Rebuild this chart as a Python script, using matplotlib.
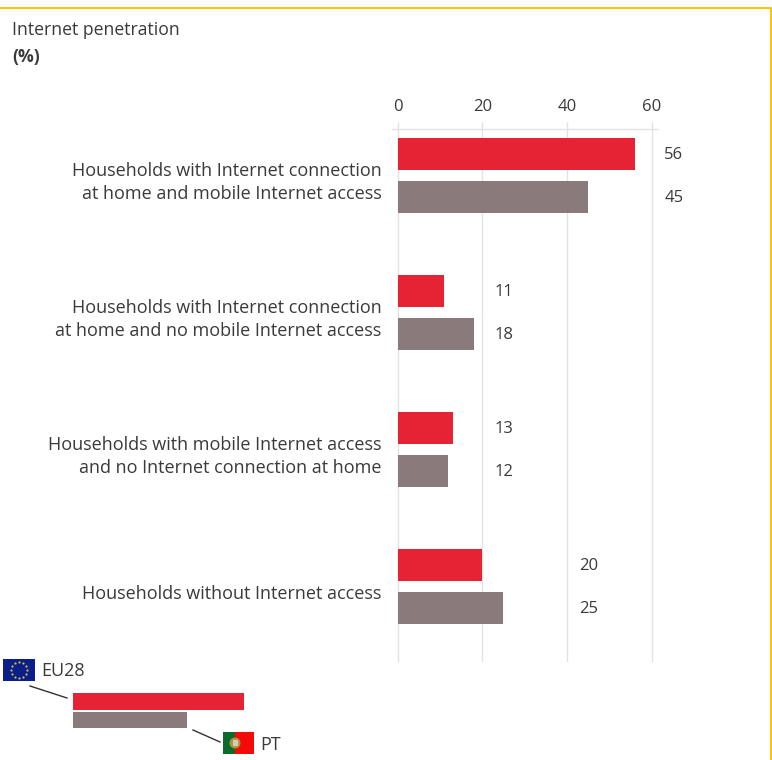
import numpy as np
import matplotlib
matplotlib.use('Agg')
import matplotlib.pyplot as plt
from matplotlib.patches import Rectangle, Circle
from matplotlib.transforms import ScaledTranslation

plt.rcParams['font.family'] = ['Open Sans', 'DejaVu Sans']

categories = ['Households with Internet connection\nat home and mobile Internet access',
              'Households with Internet connection\nat home and no mobile Internet access',
              'Households with mobile Internet access\nand no Internet connection at home',
              'Households without Internet access']
eu28 = [56, 11, 13, 20]
pt = [45, 18, 12, 25]
label_cols = [63, 23, 23, 42.8]
ticks = [0, 20, 40, 60]

RED = '#e62235'
GREY = '#8a7a7c'
TEXT = '#3a3a3a'
GRID = '#e2e2e2'
W, H = 772, 760

fig = plt.figure(figsize=(W / 100, H / 100), dpi=100)

# main axes, placed from pixel positions
left, right, top, bottom = 392, 657.5, 129, 662
ax = fig.add_axes([left / W, 1 - bottom / H, (right - left) / W, (bottom - top) / H])
ax.set_xlim(-1.3, 61.4)
ax.set_ylim(3.551, -0.339)
for s in ['left', 'right', 'bottom']:
    ax.spines[s].set_visible(False)
ax.spines['top'].set_color(GRID)
ax.spines['top'].set_linewidth(1)
ax.set_axisbelow(True)
ax.xaxis.tick_top()
ax.set_xticks(ticks)
ax.grid(axis='x', color=GRID, linewidth=1)
ax.tick_params(axis='x', length=5, width=1, color=GRID, labelcolor=TEXT, labelsize=12, pad=5)

y = np.arange(len(categories))
ax.barh(y - 0.157, eu28, height=0.234, color=RED)
ax.barh(y + 0.157, pt, height=0.234, color=GREY)
ax.set_yticks(y)
ax.set_yticklabels(categories, fontsize=13, color=TEXT, linespacing=1.38, ha='right')
ax.tick_params(axis='y', length=0, pad=7.5)

# category labels sit a bit lower than the middle of each bar pair
for lab in ax.get_yticklabels():
    px = 2.5 if '\n' in lab.get_text() else 5.5
    shift = ScaledTranslation(0, -px / 100, fig.dpi_scale_trans)
    lab.set_transform(lab.get_transform() + shift)

for i in y:
    ax.text(label_cols[i], i - 0.15, str(eu28[i]), va='center', ha='left', fontsize=12, color=TEXT)
    ax.text(label_cols[i], i + 0.164, str(pt[i]), va='center', ha='left', fontsize=12, color=TEXT)

# overlay in pixel coords for the frame, title and the little legend
ov = fig.add_axes([0, 0, 1, 1], facecolor='none')
ov.set_xlim(0, W)
ov.set_ylim(H, 0)
ov.axis('off')

ov.plot([0, 770.5, 770.5], [8, 8, H], color='#fcc30f', linewidth=1.5)
ov.text(12, 30, 'Internet penetration', fontsize=12.7, color=TEXT, va='center')
ov.text(12, 57, '(%)', fontsize=12.7, color=TEXT, va='center', fontweight='bold')

ov.add_patch(Rectangle((73, 693), 171, 17, color=RED, lw=0))
ov.add_patch(Rectangle((73, 712), 114, 16, color=GREY, lw=0))
ov.plot([30, 67], [686, 698], color='#333333', linewidth=1)
ov.plot([193, 220], [730, 742], color='#333333', linewidth=1)

# EU flag
ov.add_patch(Rectangle((3, 659), 32, 22, color='#0b1f8a', lw=0))
angles = np.arange(12) * np.pi / 6
ov.scatter(19 + 8 * np.cos(angles), 670 + 8 * np.sin(angles), s=2.5, color='#d8c040', linewidths=0)
ov.text(41, 671, 'EU28', fontsize=13, color=TEXT, va='center')

# PT flag
ov.add_patch(Rectangle((223, 732), 12, 22, color='#0a6a2a', lw=0))
ov.add_patch(Rectangle((235, 732), 19, 22, color='#f50a0a', lw=0))
ov.add_patch(Circle((235, 743), 5.5, facecolor='#a89a3a', edgecolor='none'))
ov.add_patch(Rectangle((232.5, 740), 5, 6, color='#d8c8c8', lw=0))
ov.text(260, 745, 'PT', fontsize=13, color=TEXT, va='center')

fig.savefig('out.png', dpi=100)
